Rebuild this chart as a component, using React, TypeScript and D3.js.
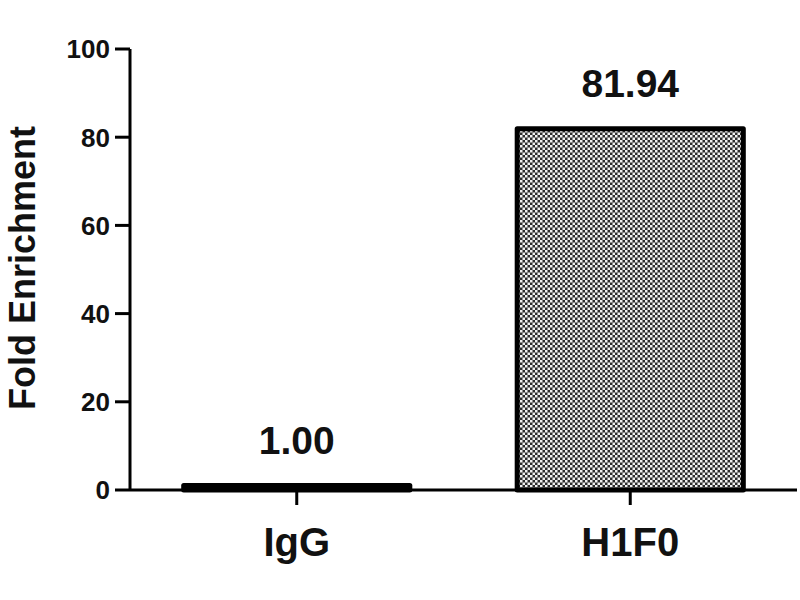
import React from "react";
import * as d3 from "d3";

const categories = ["IgG", "H1F0"];
const values = [1.0, 81.94];
const valueLabels = ["1.00", "81.94"];
const yTicks = [0, 20, 40, 60, 80, 100];

const W = 800;
const H = 600;
const FONT = "'Liberation Sans', Arial, Helvetica, sans-serif";

export default function App() {
  const x = d3.scalePoint<string>().domain(categories).range([130, 797]).padding(0.5);
  const y = d3.scaleLinear().domain([0, 100]).range([490, 49]);
  const bw = x.step() * 0.678;

  return (
    <svg
      width={W}
      height={H}
      style={{ position: "absolute", left: 0, top: 0, background: "#fff" }}
      fontFamily={FONT}
    >
      <defs>
        <pattern id="checker" width={5} height={5} patternUnits="userSpaceOnUse">
          <rect x={0} y={0} width={5} height={5} fill="#2e2e2e" />
          <rect x={0} y={0} width={2.5} height={2.5} fill="#f2f2f2" />
          <rect x={2.5} y={2.5} width={2.5} height={2.5} fill="#f2f2f2" />
        </pattern>
      </defs>
      <rect x={0} y={0} width={W} height={H} fill="#fff" />

      {/* bars */}
      {categories.map((c, i) => {
        const cx = x(c)!;
        const top = y(values[i]);
        return (
          <g key={c}>
            <rect
              x={cx - bw / 2}
              y={top}
              width={bw}
              height={y(0) - top}
              fill="url(#checker)"
              stroke="#000"
              strokeWidth={5}
              strokeLinejoin="round"
            />
            <text
              x={cx}
              y={top - 32}
              textAnchor="middle"
              fontSize={39}
              fontWeight="bold"
              fill="#111"
            >
              {valueLabels[i]}
            </text>
          </g>
        );
      })}

      {/* y axis */}
      <line x1={130} x2={130} y1={y(100)} y2={y(0)} stroke="#000" strokeWidth={3} />
      {yTicks.map((t) => (
        <g key={t}>
          <line x1={115} x2={130} y1={y(t)} y2={y(t)} stroke="#000" strokeWidth={3} />
          <text
            x={110}
            y={y(t)}
            dy="0.36em"
            textAnchor="end"
            fontSize={26}
            fontWeight="bold"
            fill="#111"
          >
            {t}
          </text>
        </g>
      ))}

      {/* x axis */}
      <line x1={130} x2={797} y1={y(0)} y2={y(0)} stroke="#000" strokeWidth={3} />
      {categories.map((c) => (
        <g key={c}>
          <line x1={x(c)!} x2={x(c)!} y1={y(0)} y2={y(0) + 15} stroke="#000" strokeWidth={3} />
          <text
            x={x(c)!}
            y={556}
            textAnchor="middle"
            fontSize={40}
            fontWeight="bold"
            fill="#111"
          >
            {c}
          </text>
        </g>
      ))}

      {/* y title */}
      <text
        transform="translate(35,268) rotate(-90)"
        textAnchor="middle"
        fontSize={36}
        fontWeight="bold"
        fill="#111"
      >
        Fold Enrichment
      </text>
    </svg>
  );
}
